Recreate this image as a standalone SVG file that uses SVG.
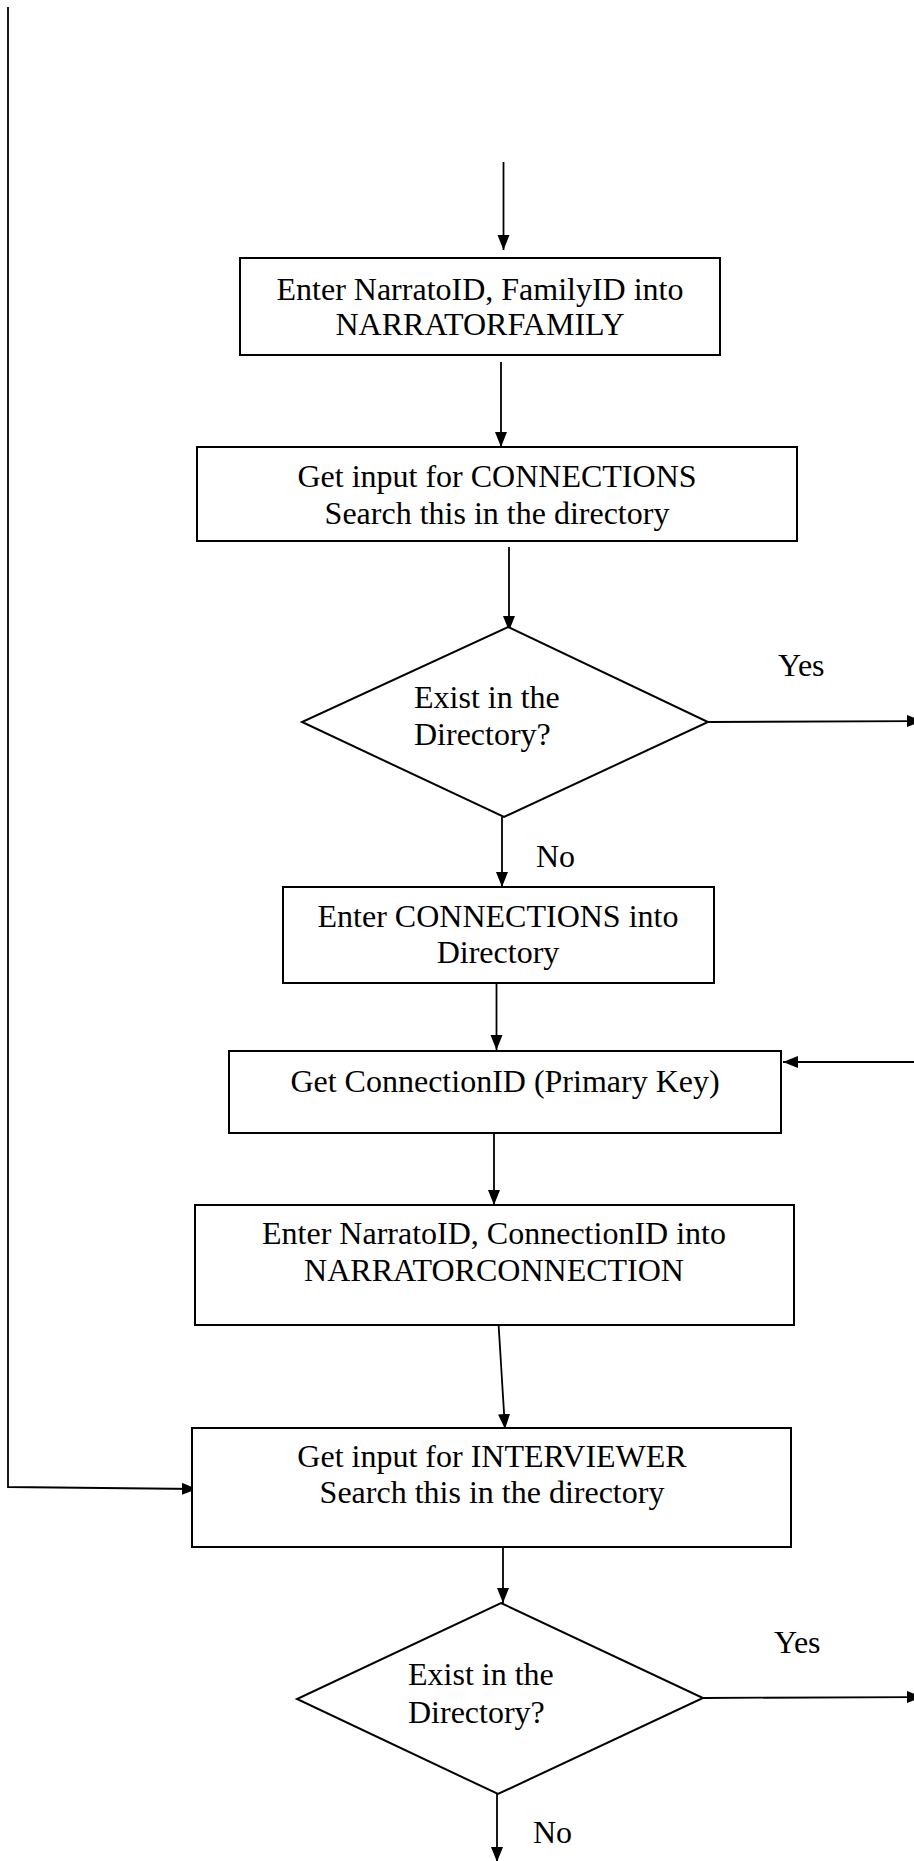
<svg xmlns="http://www.w3.org/2000/svg" width="914" height="1861" viewBox="0 0 914 1861">
  <style>
    .box { fill: #ffffff; stroke: #000000; stroke-width: 2; }
    .edge { fill: none; stroke: #000000; stroke-width: 1.8; }
    .lbl { font-family: "Liberation Serif", "Times New Roman", serif; font-size: 32px; fill: #000000; }
    .mid { text-anchor: middle; }
  </style>
  <defs>
    <marker id="arrow" markerUnits="userSpaceOnUse" markerWidth="16" markerHeight="14" refX="15" refY="6" orient="auto">
      <path d="M0,0 L15,6 L0,12 z" fill="#000000"/>
    </marker>
  </defs>
  <rect width="914" height="1861" fill="#ffffff"/>

  <!-- connectors -->
  <g id="connectors">
    <line class="edge" x1="503.5" y1="162" x2="503.5" y2="250" marker-end="url(#arrow)"/>
    <line class="edge" x1="501" y1="362" x2="501" y2="447" marker-end="url(#arrow)"/>
    <line class="edge" x1="509" y1="547" x2="509" y2="631" marker-end="url(#arrow)"/>
    <line class="edge" x1="708" y1="722" x2="922" y2="721" marker-end="url(#arrow)"/>
    <line class="edge" x1="502" y1="817" x2="502" y2="887" marker-end="url(#arrow)"/>
    <line class="edge" x1="496.5" y1="978" x2="496.5" y2="1050" marker-end="url(#arrow)"/>
    <line class="edge" x1="914" y1="1062" x2="783" y2="1062" marker-end="url(#arrow)"/>
    <line class="edge" x1="494" y1="1133" x2="494" y2="1205" marker-end="url(#arrow)"/>
    <line class="edge" x1="498" y1="1315" x2="505" y2="1429" marker-end="url(#arrow)"/>
    <polyline class="edge" points="8,7 8,1487 197,1489" marker-end="url(#arrow)"/>
    <line class="edge" x1="503" y1="1547" x2="503" y2="1603" marker-end="url(#arrow)"/>
    <line class="edge" x1="703" y1="1698" x2="922" y2="1697" marker-end="url(#arrow)"/>
    <line class="edge" x1="497" y1="1794" x2="497" y2="1862" marker-end="url(#arrow)"/>
  </g>

  <g id="narrator-family">
    <rect class="box" x="240" y="258" width="480" height="97"/>
    <text class="lbl mid" x="480" y="300">Enter NarratoID, FamilyID into</text>
    <text class="lbl mid" x="480" y="335">NARRATORFAMILY</text>
  </g>

  <g id="input-connections">
    <rect class="box" x="197" y="447" width="600" height="94"/>
    <text class="lbl mid" x="497" y="487">Get input for CONNECTIONS</text>
    <text class="lbl mid" x="497" y="524">Search this in the directory</text>
  </g>

  <g id="exist-connections">
    <polygon class="box" points="508,627 708,722 504,817 302,722"/>
    <text class="lbl" x="414" y="708">Exist in the</text>
    <text class="lbl" x="414" y="745">Directory?</text>
  </g>
  <text class="lbl" x="778" y="676">Yes</text>
  <text class="lbl" x="536" y="867">No</text>

  <g id="enter-connections">
    <rect class="box" x="283" y="887" width="431" height="96"/>
    <text class="lbl mid" x="498" y="927">Enter CONNECTIONS into</text>
    <text class="lbl mid" x="498" y="963">Directory</text>
  </g>

  <g id="get-connection-id">
    <rect class="box" x="229" y="1051" width="552" height="82"/>
    <text class="lbl mid" x="505" y="1092">Get ConnectionID (Primary Key)</text>
  </g>

  <g id="narrator-connection">
    <rect class="box" x="195" y="1205" width="599" height="120"/>
    <text class="lbl mid" x="494" y="1244">Enter NarratoID, ConnectionID into</text>
    <text class="lbl mid" x="494" y="1281">NARRATORCONNECTION</text>
  </g>

  <g id="input-interviewer">
    <rect class="box" x="192" y="1428" width="599" height="119"/>
    <text class="lbl mid" x="492" y="1467">Get input for INTERVIEWER</text>
    <text class="lbl mid" x="492" y="1503">Search this in the directory</text>
  </g>

  <g id="exist-interviewer">
    <polygon class="box" points="501,1603 703,1698 498,1794 297,1699"/>
    <text class="lbl" x="408" y="1685">Exist in the</text>
    <text class="lbl" x="408" y="1723">Directory?</text>
  </g>
  <text class="lbl" x="774" y="1653">Yes</text>
  <text class="lbl" x="533" y="1843">No</text>
</svg>
